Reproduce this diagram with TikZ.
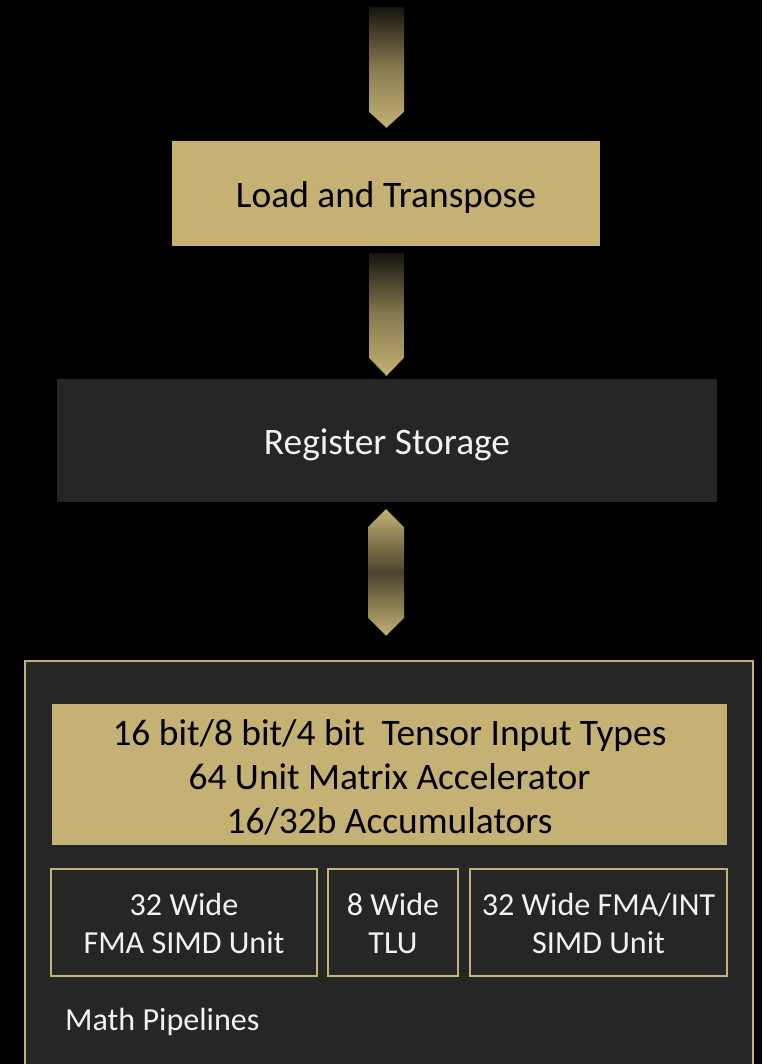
\documentclass[tikz,border=0pt]{standalone}
\usepackage{fontspec}
\setmainfont{Carlito}
\usetikzlibrary{calc}
\definecolor{gold}{HTML}{C5B174}
\definecolor{panel}{HTML}{262626}
\definecolor{dusk}{HTML}{16140E}
\definecolor{ink}{HTML}{F2F2F2}
\tikzset{
  goldbox/.style={fill=gold, inner sep=0pt},
  darkbox/.style={fill=panel, inner sep=0pt},
  unitbox/.style={fill=panel, draw=gold, line width=2pt, inner sep=0pt,
    minimum height=107pt},
  bigtext/.style={inner sep=0pt, align=center, font=\fontsize{37.4}{44}\selectfont},
  smalltext/.style={text=ink, inner sep=0pt, align=center, font=\fontsize{32.1}{38}\selectfont},
  feedarrow/.style={top color=dusk, bottom color=gold, middle color=gold!65!dusk},
  busarrow/.style={top color=gold, bottom color=gold, middle color=gold!30!dusk},
}
\begin{document}
\begin{tikzpicture}[x=1pt,y=-1pt]
\fill[black] (0,0) rectangle (762,1064);
\useasboundingbox (0,0) rectangle (762,1064);

% main blocks
\node[goldbox, minimum width=428pt, minimum height=105pt] (load) at (386,193.5) {};
\node[bigtext, text=black] (loadtxt) at ($(load.center)+(0,4)$) {Load and Transpose};
\node[darkbox, minimum width=660pt, minimum height=123pt] (reg) at (387,440.5) {};
\node[bigtext, text=ink] (regtxt) at ($(reg.center)+(0,4.5)$) {Register Storage};

% math pipeline panel
\node[fill=panel, draw=gold, line width=2.5pt, minimum width=728pt, minimum height=410pt,
      inner sep=0pt] (pipe) at (389,866) {};
\node[goldbox, minimum width=675pt, minimum height=141pt] (tensor) at (389.5,774.5) {};
\node[bigtext, text=black] (tensortxt) at ($(tensor.center)+(0,2.5)$)
  {16 bit/8 bit/4 bit\ \ Tensor Input Types\\64 Unit Matrix Accelerator\\16/32b Accumulators};
\node[unitbox, minimum width=266pt] (fma) at (184,922.5) {};
\node[smalltext] (fmatxt) at ($(fma.center)+(0,1)$) {32 Wide\\FMA SIMD Unit};
\node[unitbox, minimum width=130pt] (tlu) at (393,922.5) {};
\node[smalltext] (tlutxt) at ($(tlu.center)+(0,1)$) {8 Wide\\TLU};
\node[unitbox, minimum width=257pt] (fmaint) at (598.5,922.5) {};
\node[smalltext] (fmainttxt) at ($(fmaint.center)+(0,1)$) {32 Wide FMA/INT\\SIMD Unit};
\node[smalltext, anchor=west] (mathlbl) at (65,1022) {Math Pipelines};

% incoming feed into load and transpose
\coordinate (feed) at (386.5,7);
\coordinate (t1) at ($(load.north)+(0.5,-13)$);
\shade[feedarrow]
  ($(feed)+(-17.5,0)$) -- ($(feed)+(17.5,0)$) -- ($(t1)+(17.5,-16)$) -- (t1)
  -- ($(t1)+(-17.5,-16)$) -- cycle;

% load and transpose -> register storage
\coordinate (s2) at ($(load.south)+(0.5,7)$);
\coordinate (t2) at ($(reg.north)+(-0.5,-3)$);
\shade[feedarrow]
  ($(s2)+(-17.5,0)$) -- ($(s2)+(17.5,0)$) -- ($(t2)+(17.5,-18)$) -- (t2)
  -- ($(t2)+(-17.5,-18)$) -- cycle;

% register storage <-> math pipelines
\coordinate (u3) at ($(reg.south)+(-1,7)$);
\coordinate (d3) at ($(pipe.north)+(-3,-24)$);
\shade[busarrow]
  (u3) -- ($(u3)+(18,18)$) -- ($(d3)+(18,-18)$) -- (d3) -- ($(d3)+(-18,-18)$)
  -- ($(u3)+(-18,18)$) -- cycle;
\end{tikzpicture}
\end{document}
